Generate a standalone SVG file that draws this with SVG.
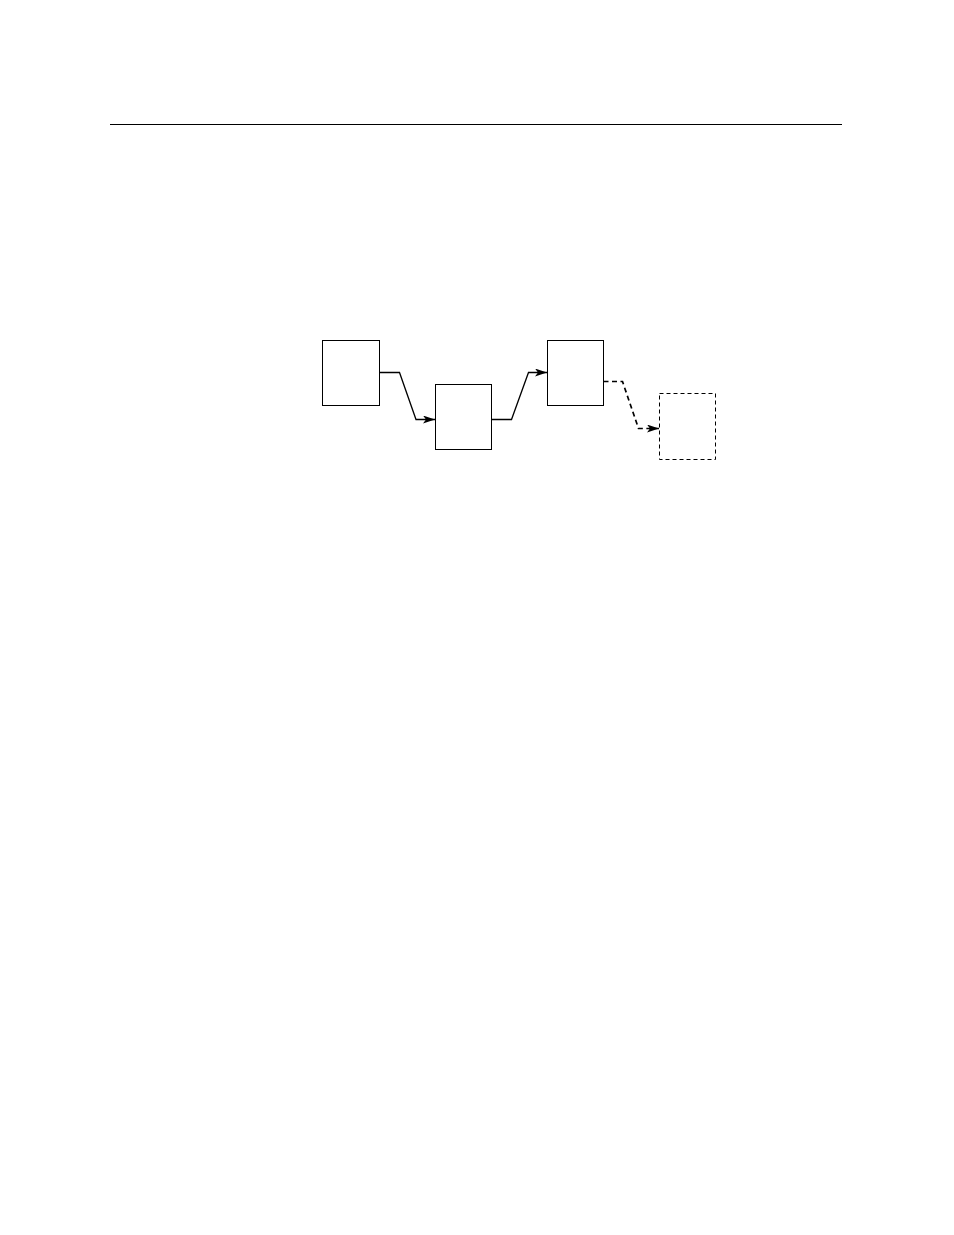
<svg xmlns="http://www.w3.org/2000/svg" width="954" height="1235" viewBox="0 0 954 1235">
<style>
.box{fill:#fff;stroke:#000;stroke-width:1}
.dash{stroke-dasharray:4,3}
.conn{fill:none;stroke:#000;stroke-width:1.3}
.cdash{stroke-width:1.7;stroke-dasharray:5,3.5}
</style>
<defs>
<marker id="arr" viewBox="0 0 12 8" refX="12" refY="4" markerWidth="12" markerHeight="8" markerUnits="userSpaceOnUse" orient="auto">
<path d="M0,0 L12,4 L0,8 L3,4 Z" fill="#000"/>
</marker>
</defs>
<rect width="954" height="1235" fill="#fff"/>
<line x1="110" y1="124.5" x2="842" y2="124.5" stroke="#000" stroke-width="1"/>
<g id="node1"><rect class="box" x="322.5" y="340.5" width="57" height="65"/></g>
<g id="node2"><rect class="box" x="435.5" y="384.5" width="56" height="65"/></g>
<g id="node3"><rect class="box" x="547.5" y="340.5" width="56" height="65"/></g>
<g id="node4"><rect class="box dash" x="659.5" y="393.5" width="56" height="66"/></g>
<g id="connectors">
<path class="conn" d="M379.5,372.5 H399.5 L416,419.5 H435" marker-end="url(#arr)"/>
<path class="conn" d="M491.5,419.5 H511.5 L528.5,372.5 H547" marker-end="url(#arr)"/>
<path class="conn cdash" d="M603.5,381.5 H622.5 L638.5,428.5 H659" marker-end="url(#arr)"/>
</g>
</svg>
